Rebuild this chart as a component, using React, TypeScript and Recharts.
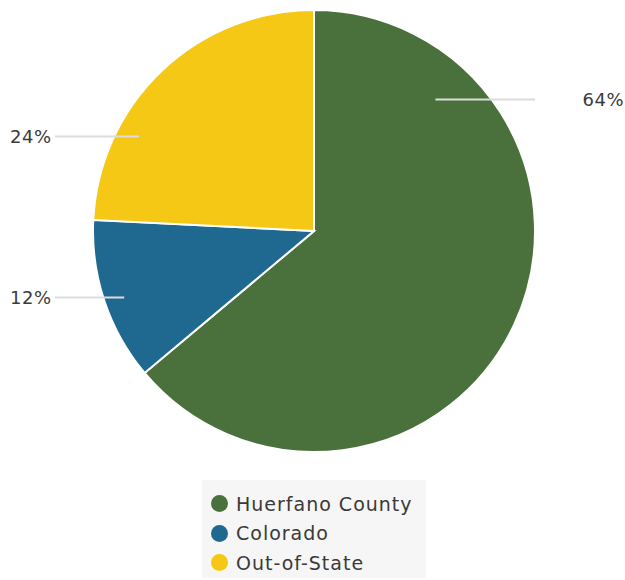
import React from "react";
import { PieChart, Pie, Cell, Legend } from "recharts";

const categories = ["Huerfano County", "Colorado", "Out-of-State"];
const shares = [63.9, 11.9, 24.2];
const colors = ["#4a703c", "#1f6890", "#f5c815"];

const data = categories.map((name, i) => ({ name, value: shares[i] }));

const FONT = "'DejaVu Sans', sans-serif";
const RADIAN = Math.PI / 180;
// where each leader line starts, as angle (deg) and fraction of the radius
const labelAnchors = [
  { angle: 47.3, r: 0.81 },
  { angle: 199.3, r: 0.91 },
  { angle: 151.6, r: 0.9 },
];

function renderLabel(props: any) {
  const { cx, cy, outerRadius, index, value } = props;
  const a = labelAnchors[index];
  const x0 = cx + outerRadius * a.r * Math.cos(a.angle * RADIAN);
  const y0 = cy - outerRadius * a.r * Math.sin(a.angle * RADIAN);
  const right = Math.cos(a.angle * RADIAN) > 0;
  const x1 = right ? cx + outerRadius : 55;
  return (
    <g>
      <line x1={x0} y1={y0} x2={x1} y2={y0} stroke="#dcdcdc" strokeWidth={2} />
      <text
        x={right ? 624 : 10}
        y={y0}
        textAnchor={right ? "end" : "start"}
        dominantBaseline="central"
        fill="#3a3a3a"
        fontSize={18}
        letterSpacing={0.5}
        fontFamily={FONT}
      >
        {Math.round(value)}%
      </text>
    </g>
  );
}

function LegendBox() {
  return (
    <div
      style={{
        width: 224,
        height: 98,
        background: "#f5f6f5",
        boxSizing: "border-box",
        padding: "9px 0 0 9px",
        fontFamily: FONT,
        fontSize: 19,
        letterSpacing: 1,
        color: "#3a3a3a",
      }}
    >
      {categories.map((c, i) => (
        <div key={c} style={{ display: "flex", alignItems: "center", height: 29.5 }}>
          <span
            style={{
              width: 17,
              height: 17,
              borderRadius: "50%",
              background: colors[i],
              marginRight: 8,
              display: "inline-block",
            }}
          />
          <span>{c}</span>
        </div>
      ))}
    </div>
  );
}

export default function App() {
  return (
    <div style={{ position: "absolute", left: 0, top: 0, width: 625, height: 580, background: "#fff" }}>
      <PieChart width={625} height={580} margin={{ top: 0, right: 0, bottom: 0, left: 0 }}>
        <Pie
          data={data}
          dataKey="value"
          nameKey="name"
          cx={314}
          cy={231}
          outerRadius={221}
          startAngle={90}
          endAngle={-270}
          stroke="#fff"
          strokeWidth={2}
          label={renderLabel}
          labelLine={false}
          isAnimationActive={false}
        >
          {data.map((d, i) => (
            <Cell key={d.name} fill={colors[i]} />
          ))}
        </Pie>
        <Legend
          content={() => <LegendBox />}
          wrapperStyle={{ left: 202, top: 480, width: 224, height: 98 }}
        />
      </PieChart>
    </div>
  );
}
